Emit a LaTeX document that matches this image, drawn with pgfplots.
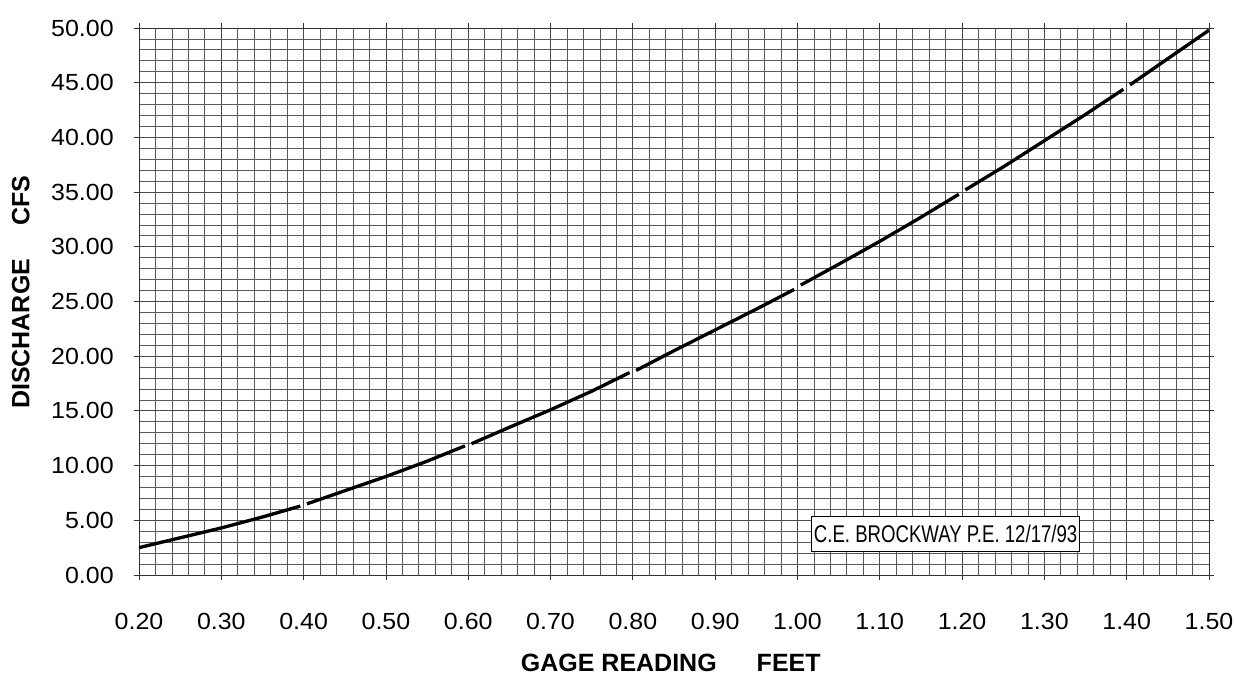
\documentclass[border=0pt]{standalone}
\usepackage{pgfplots}
\pgfplotsset{compat=1.18}
\usepackage{fontspec}
\setmainfont{Liberation Sans}
\newfontfamily\tickfont[FakeStretch=1.07]{Liberation Sans}
\newfontfamily\narrowfont[FakeStretch=0.77]{Liberation Sans}
\begin{document}
\begin{tikzpicture}
\useasboundingbox (0,0) rectangle (741pt,411pt);
\begin{axis}[
  at={(83.4pt,66pt)}, anchor=south west,
  scale only axis, width=642pt, height=328.2pt,
  xmin=0.2, xmax=1.5, ymin=0, ymax=50,
  xtick={0.2,0.3,0.4,0.5,0.6,0.7,0.8,0.9,1.0,1.1,1.2,1.3,1.4,1.5},
  ytick={0,5,10,15,20,25,30,35,40,45,50},
  minor x tick num=4, minor y tick num=4,
  grid=both,
  major grid style={black!70, line width=0.5pt},
  minor grid style={black!65, line width=0.45pt},
  axis line style={black!80, line width=0.5pt},
  tick align=outside, major tick length=3pt, minor tick length=0pt,
  tick style={black!80, line width=0.5pt},
  /pgf/number format/.cd, fixed, fixed zerofill, precision=2, assume math mode=true,
  /pgfplots/.cd,
  tick label style={font=\tickfont\fontsize{14}{16}\selectfont, inner sep=0pt},
  xticklabel shift=20pt, yticklabel shift=12pt,
  xlabel={GAGE READING\hspace{24pt}FEET},
  ylabel={DISCHARGE\hspace{20pt}CFS},
  label style={font=\bfseries\fontsize{15}{17}\selectfont},
  xlabel style={at={(axis description cs:0.497,0)}, anchor=center, yshift=-53pt},
  ylabel style={at={(axis description cs:0,0.517)}, anchor=center, rotate=0, yshift=71pt},
]
\addplot[black, line width=2pt] coordinates {(0.20,2.5)(0.25,3.4)(0.30,4.3)(0.35,5.3)(0.396,6.3)};
\addplot[black, line width=2pt] coordinates {(0.404,6.5)(0.45,7.7)(0.50,9.0)(0.55,10.4)(0.596,11.8)};
\addplot[black, line width=2pt] coordinates {(0.604,12.0)(0.65,13.5)(0.70,15.1)(0.75,16.8)(0.796,18.5)};
\addplot[black, line width=2pt] coordinates {(0.804,18.7)(0.85,20.5)(0.90,22.4)(0.95,24.3)(0.996,26.1)};
\addplot[black, line width=2pt] coordinates {(1.004,26.5)(1.05,28.4)(1.10,30.5)(1.15,32.7)(1.196,34.8)};
\addplot[black, line width=2pt] coordinates {(1.204,35.2)(1.25,37.3)(1.30,39.7)(1.35,42.1)(1.396,44.4)};
\addplot[black, line width=2pt] coordinates {(1.404,44.8)(1.45,47.2)(1.50,49.8)};
\node[draw=black, line width=0.6pt, fill=white, inner xsep=1.5pt, inner ysep=5pt,
      font=\narrowfont\fontsize{14.5}{16}\selectfont] at (axis cs:1.18,3.75) {C.E. BROCKWAY P.E. 12/17/93};
\end{axis}
\end{tikzpicture}
\end{document}
